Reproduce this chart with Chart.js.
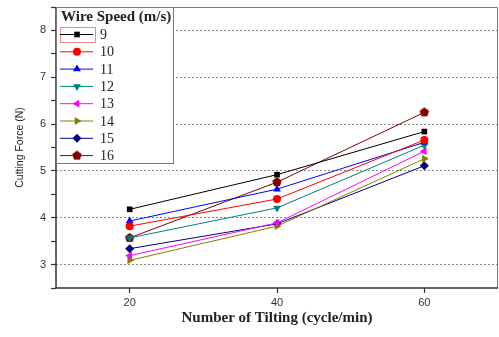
<!DOCTYPE html>
<html>
<head>
<meta charset="utf-8">
<script src="https://cdn.jsdelivr.net/npm/chart.js@4/dist/chart.umd.min.js"></script>
<style>
html,body{margin:0;padding:0;background:#fff;}
#wrap{width:499px;height:337px;position:relative;}
</style>
</head>
<body>
<div id="wrap"><canvas id="c" width="499" height="337"></canvas></div>
<script>
// ---- data ----
const tilting = [20, 40, 60];
const speedLabels = ['9', '10', '11', '12', '13', '14', '15', '16'];
const force9  = [4.18, 4.92, 5.84];
const force10 = [3.82, 4.40, 5.66];
const force11 = [3.93, 4.61, 5.61];
const force12 = [3.57, 4.21, 5.55];
const force13 = [3.19, 3.89, 5.42];
const force14 = [3.09, 3.82, 5.26];
const force15 = [3.34, 3.87, 5.11];
const force16 = [3.57, 4.76, 6.25];
const yTickValues = [3, 4, 5, 6, 7, 8];
const xTickValues = [20, 40, 60];

const seriesValues = [force9, force10, force11, force12, force13, force14, force15, force16];
const colors = ['#000000', '#ff0000', '#0000ff', '#008080', '#ff00ff', '#808000', '#000080', '#800000'];

function pentagon(color, r) {
  const s = r * 2 + 2;
  const cv = document.createElement('canvas');
  cv.width = s; cv.height = s;
  const g = cv.getContext('2d');
  g.fillStyle = color;
  g.beginPath();
  for (let i = 0; i < 5; i++) {
    const a = -Math.PI / 2 + i * 2 * Math.PI / 5;
    const px = s / 2 + r * Math.cos(a), py = s / 2 + r * Math.sin(a);
    if (i === 0) g.moveTo(px, py); else g.lineTo(px, py);
  }
  g.closePath(); g.fill();
  return cv;
}
const styles = [
  {s: 'rect', rot: 0, r: 4},
  {s: 'circle', rot: 0, r: 4},
  {s: 'triangle', rot: 0, r: 4.5},
  {s: 'triangle', rot: 180, r: 4.5},
  {s: 'triangle', rot: -90, r: 4.5},
  {s: 'triangle', rot: 90, r: 4.5},
  {s: 'rectRot', rot: 0, r: 4.5},
  {s: pentagon('#800000', 5), rot: 0, r: 5}
];

const datasets = seriesValues.map((vals, i) => ({
  label: speedLabels[i],
  data: tilting.map((x, j) => ({x: x, y: vals[j]})),
  borderColor: colors[i],
  backgroundColor: colors[i],
  borderWidth: 1,
  pointStyle: styles[i].s,
  pointRotation: styles[i].rot,
  pointRadius: styles[i].r,
  pointBorderWidth: 0,
  pointBackgroundColor: colors[i],
  pointBorderColor: colors[i],
  tension: 0
}));

function zeroPad(scale) {
  scale.paddingTop = 0; scale.paddingBottom = 0;
  scale.paddingLeft = 0; scale.paddingRight = 0;
}

const framePlugin = {
  id: 'frame',
  afterDatasetsDraw(chart) {
    const {ctx, chartArea: a} = chart;
    ctx.save();
    ctx.strokeStyle = '#777';
    ctx.lineWidth = 1;
    ctx.beginPath();
    ctx.moveTo(a.left, a.top + 0.5); ctx.lineTo(a.right - 0.5, a.top + 0.5); ctx.lineTo(a.right - 0.5, a.bottom);
    ctx.stroke();
    ctx.strokeStyle = '#333';
    ctx.lineWidth = 1.5;
    ctx.beginPath();
    ctx.moveTo(a.left, a.top); ctx.lineTo(a.left, a.bottom); ctx.lineTo(a.right, a.bottom);
    ctx.stroke();
    ctx.restore();
  }
};

const legendPlugin = {
  id: 'boxLegend',
  afterDraw(chart) {
    const {ctx, chartArea: a} = chart;
    const left = a.left, top = a.top, w = 117, h = 156;
    ctx.save();
    ctx.fillStyle = '#fff';
    ctx.fillRect(left, top, w, h);
    ctx.strokeStyle = '#777';
    ctx.lineWidth = 1;
    ctx.strokeRect(left + 0.5, top + 0.5, w, h);
    ctx.fillStyle = '#222';
    ctx.font = 'bold 15px "Liberation Serif", "Times New Roman", serif';
    ctx.textBaseline = 'middle';
    ctx.textAlign = 'left';
    ctx.fillText('Wire Speed (m/s)', left + 5, top + 10);
    ctx.strokeStyle = '#e88';
    ctx.strokeRect(left + 4.5, top + 20.5, 35, 15);
    chart.data.datasets.forEach((ds, i) => {
      const y = top + 27.5 + i * 17.3;
      ctx.strokeStyle = ds.borderColor;
      ctx.lineWidth = 1;
      ctx.beginPath();
      ctx.moveTo(left + 4, y); ctx.lineTo(left + 37, y);
      ctx.stroke();
      ctx.fillStyle = ds.backgroundColor;
      ctx.strokeStyle = ds.borderColor;
      Chart.helpers.drawPoint(ctx, {
        pointStyle: ds.pointStyle, rotation: ds.pointRotation,
        radius: ds.pointRadius, borderWidth: 0
      }, left + 21, y);
      ctx.fillStyle = '#222';
      ctx.font = '14px "Liberation Serif", "Times New Roman", serif';
      ctx.fillText(ds.label, left + 44, y + 1);
    });
    ctx.restore();
  }
};

new Chart(document.getElementById('c'), {
  type: 'line',
  data: {datasets: datasets},
  plugins: [framePlugin, legendPlugin],
  options: {
    responsive: false,
    animation: false,
    events: [],
    layout: {autoPadding: false, padding: {left: 0, right: 1, top: 7, bottom: 0}},
    plugins: {legend: {display: false}, tooltip: {enabled: false}},
    scales: {
      x: {
        type: 'linear',
        min: 10, max: 70,
        afterBuildTicks(scale) { scale.ticks = xTickValues.map(v => ({value: v})); },
        afterFit(scale) { scale.height = 49; zeroPad(scale); },
        grid: {drawOnChartArea: false, drawTicks: true, tickLength: 5, tickColor: '#333', tickWidth: 1.2},
        border: {display: false},
        ticks: {font: {family: '"Liberation Sans", Arial, sans-serif', size: 11}, color: '#333', padding: 3, maxRotation: 0},
        title: {display: true, text: 'Number of Tilting (cycle/min)', color: '#222',
          font: {family: '"Liberation Serif", "Times New Roman", serif', size: 15, weight: 'bold'},
          padding: {top: 0, bottom: 10}}
      },
      y: {
        type: 'linear',
        min: 2.5, max: 8.5,
        afterBuildTicks(scale) {
          const t = [];
          for (let v = 2.5; v <= 8.5001; v += 0.5) t.push({value: Math.round(v * 10) / 10});
          scale.ticks = t;
        },
        afterFit(scale) { scale.width = 56; zeroPad(scale); },
        grid: {
          drawOnChartArea: true, drawTicks: true, tickLength: 5, tickWidth: 1.2,
          color: ctx => (ctx.tick && yTickValues.includes(ctx.tick.value)) ? '#8a8a8a' : 'rgba(0,0,0,0)',
          tickColor: '#333',
          lineWidth: 1,
          borderDash: [2, 2]
        },
        border: {display: false, dash: [2, 2]},
        ticks: {
          font: {family: '"Liberation Sans", Arial, sans-serif', size: 11}, color: '#333', padding: 5,
          callback: v => yTickValues.includes(v) ? String(v) : ''
        },
        title: {display: true, text: 'Cutting Force (N)', color: '#222',
          font: {family: '"Liberation Sans", Arial, sans-serif', size: 10.5},
          padding: {top: 14, bottom: 0}}
      }
    }
  }
});
</script>
</body>
</html>
